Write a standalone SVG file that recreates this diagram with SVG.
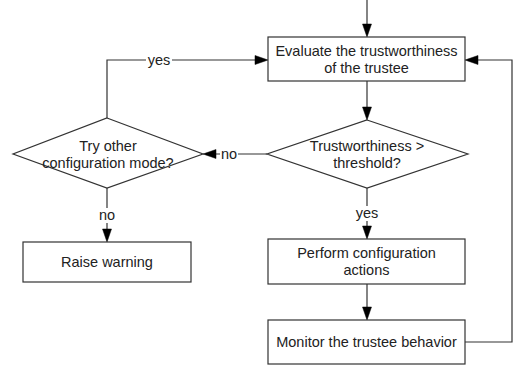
<svg xmlns="http://www.w3.org/2000/svg" width="529" height="372" viewBox="0 0 529 372">
<style>
.box{fill:#fff;stroke:#333;stroke-width:1.2}
.ln{fill:none;stroke:#333;stroke-width:1.2}
.ah{fill:#000;stroke:#000;stroke-width:0.5}
text{font-family:"Liberation Sans",Arial,sans-serif;font-size:14.5px;fill:#222;text-anchor:middle}
.lbl{fill:#fff;stroke:none}
</style>
<g id="connectors">
<line class="ln" x1="367" y1="0" x2="367" y2="28"/>
<polygon class="ah" points="367,37 362.5,24 371.5,24"/>
<line class="ln" x1="367" y1="81" x2="367" y2="111"/>
<polygon class="ah" points="367,120 362.5,107 371.5,107"/>
<line class="ln" x1="267" y1="154" x2="212" y2="154"/>
<polygon class="ah" points="203,154 216,149.5 216,158.5"/>
<polyline class="ln" points="107,118 107,60 259,60"/>
<polygon class="ah" points="268,60 255,55.5 255,64.5"/>
<polyline class="ln" points="465,342 512,342 512,60 474,60"/>
<polygon class="ah" points="465,60 478,55.5 478,64.5"/>
<line class="ln" x1="367" y1="188" x2="367" y2="230"/>
<polygon class="ah" points="367,239 362.5,226 371.5,226"/>
<line class="ln" x1="367" y1="284" x2="367" y2="311"/>
<polygon class="ah" points="367,320 362.5,307 371.5,307"/>
<line class="ln" x1="107" y1="188" x2="107" y2="233"/>
<polygon class="ah" points="107,242 102.5,229 111.5,229"/>
<rect class="lbl" x="146" y="52" width="26" height="14"/>
<text x="159" y="65">yes</text>
<rect class="lbl" x="220" y="147" width="18" height="14"/>
<text x="229" y="159">no</text>
<rect class="lbl" x="355" y="206" width="26" height="15"/>
<text x="367" y="218">yes</text>
<rect class="lbl" x="98" y="208" width="18" height="15"/>
<text x="107" y="220">no</text>
</g>
<g id="evaluate">
<rect class="box" x="268" y="37" width="197" height="44"/>
<text x="366.5" y="56">Evaluate the trustworthiness</text>
<text x="366.5" y="73">of the trustee</text>
</g>
<g id="threshold">
<polygon class="box" points="367,120 468,154 367,188 267,154"/>
<text x="367" y="151">Trustworthiness &gt;</text>
<text x="367" y="168">threshold?</text>
</g>
<g id="tryother">
<polygon class="box" points="107,118 203,154 107,188 13,154"/>
<text x="108" y="151">Try other</text>
<text x="108" y="168">configuration mode?</text>
</g>
<g id="warning">
<rect class="box" x="23" y="242" width="168" height="40"/>
<text x="107" y="267">Raise warning</text>
</g>
<g id="perform">
<rect class="box" x="268" y="239" width="197" height="45"/>
<text x="366.5" y="258">Perform configuration</text>
<text x="366.5" y="275">actions</text>
</g>
<g id="monitor">
<rect class="box" x="268" y="320" width="197" height="44"/>
<text x="366.5" y="347">Monitor the trustee behavior</text>
</g>
</svg>
